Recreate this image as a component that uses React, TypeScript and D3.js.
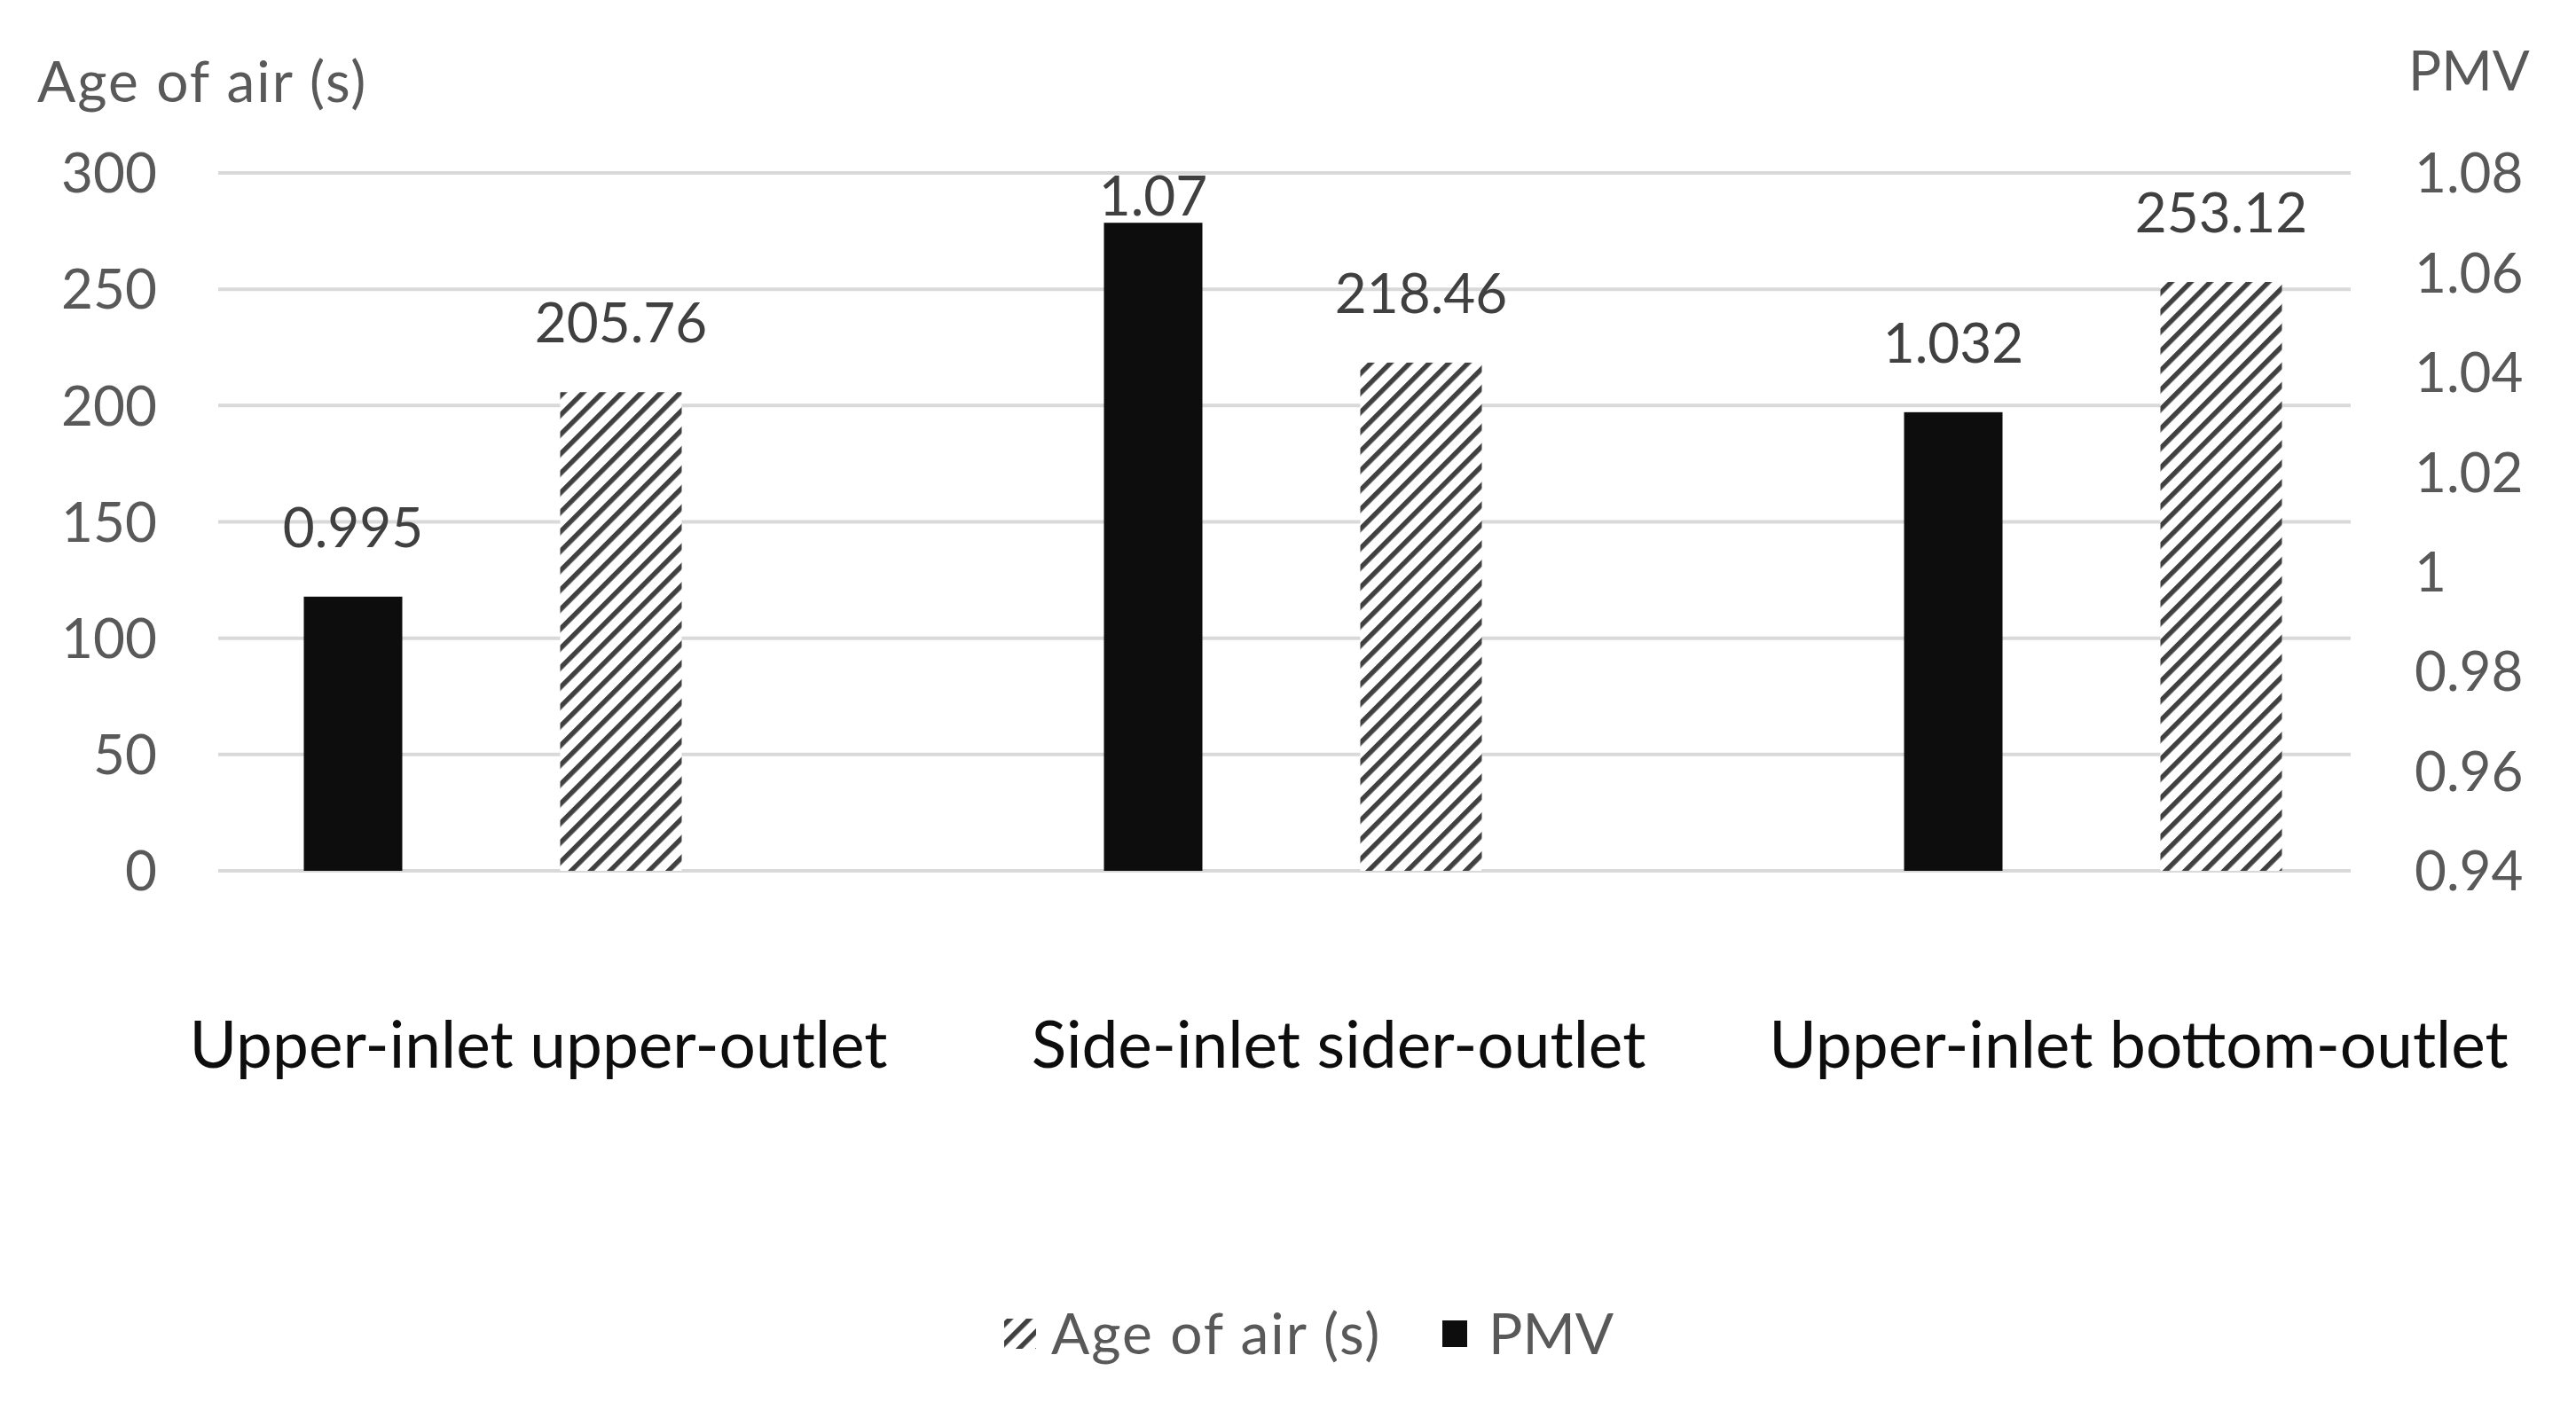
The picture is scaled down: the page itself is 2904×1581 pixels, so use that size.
import React, { useEffect, useRef } from 'react';
import * as d3 from 'd3';

// chart data
const categories = ['Upper-inlet upper-outlet', 'Side-inlet sider-outlet', 'Upper-inlet bottom-outlet'];
const ageOfAir = [205.76, 218.46, 253.12];
const pmv = [0.995, 1.07, 1.032];
const ageTicks = [0, 50, 100, 150, 200, 250, 300];
const pmvTicks = [0.94, 0.96, 0.98, 1.0, 1.02, 1.04, 1.06, 1.08];

const W = 2904;
const H = 1581;

const App = () => {
  const svgRef = useRef<SVGSVGElement>(null);

  useEffect(() => {
    const font = 'Lato, "Open Sans", sans-serif';
    const grey = '#595959';

    const svg = d3.select(svgRef.current);
    svg.selectAll('*').remove();
    svg.attr('width', W).attr('height', H);

    svg.append('rect').attr('width', W).attr('height', H).attr('fill', '#fff');

    // hatch pattern for the age-of-air bars
    const defs = svg.append('defs');
    const pat = defs.append('pattern')
      .attr('id', 'hatch')
      .attr('patternUnits', 'userSpaceOnUse')
      .attr('width', 15.5)
      .attr('height', 15.5)
      .attr('patternTransform', 'rotate(45)');
    pat.append('rect').attr('width', 15.5).attr('height', 15.5).attr('fill', '#fff');
    pat.append('rect').attr('x', 0).attr('width', 5.5).attr('height', 15.5).attr('fill', '#404040');

    const plotLeft = 246;
    const plotRight = 2650;
    const plotTop = 195;
    const plotBottom = 982;

    const yAge = d3.scaleLinear().domain([0, 300]).range([plotBottom, plotTop]);
    const yPmv = d3.scaleLinear().domain([0.94, 1.08]).range([plotBottom, plotTop]);

    const x = d3.scaleBand().domain(categories).range([98, 2804]);
    const inner = d3.scalePoint().domain(['PMV', 'Age']).range([-151, 151]);

    // grid
    svg.append('g')
      .selectAll('line')
      .data(ageTicks)
      .enter()
      .append('line')
      .attr('x1', plotLeft)
      .attr('x2', plotRight)
      .attr('y1', d => yAge(d))
      .attr('y2', d => yAge(d))
      .attr('stroke', '#d9d9d9')
      .attr('stroke-width', 4);

    // left axis labels
    svg.append('g')
      .selectAll('text')
      .data(ageTicks)
      .enter()
      .append('text')
      .attr('x', 177)
      .attr('y', d => yAge(d))
      .attr('dy', '0.36em')
      .attr('text-anchor', 'end')
      .attr('fill', grey)
      .style('font-family', font)
      .style('font-size', '62px')
      .text(d => d);

    // right axis labels
    svg.append('g')
      .selectAll('text')
      .data(pmvTicks)
      .enter()
      .append('text')
      .attr('x', 2722)
      .attr('y', d => yPmv(d))
      .attr('dy', '0.36em')
      .attr('fill', grey)
      .style('font-family', font)
      .style('font-size', '62px')
      .text(d => String(+d.toFixed(2)));

    // axis titles
    svg.append('text')
      .attr('x', 42).attr('y', 115)
      .attr('fill', grey)
      .style('font-family', font).style('font-size', '64px')
      .style('letter-spacing', '2px')
      .text('Age of air (s)');
    svg.append('text')
      .attr('x', 2715).attr('y', 102)
      .attr('fill', grey)
      .style('font-family', font).style('font-size', '62px')
      .text('PMV');

    // bars
    const pmvW = 111;
    const ageW = 137;
    const gap = 56;
    const minBase = plotTop + 48;

    categories.forEach((c, i) => {
      const cx = x(c)! + x.bandwidth() / 2;

      const px = cx + inner('PMV')!;
      const py = yPmv(pmv[i]);
      svg.append('rect')
        .attr('x', px - pmvW / 2)
        .attr('y', py)
        .attr('width', pmvW)
        .attr('height', plotBottom - py)
        .attr('fill', '#0d0d0d');

      const ax = cx + inner('Age')!;
      const ay = yAge(ageOfAir[i]);
      svg.append('rect')
        .attr('x', ax - ageW / 2)
        .attr('y', ay)
        .attr('width', ageW)
        .attr('height', plotBottom - ay)
        .attr('fill', 'url(#hatch)');

      // data labels
      svg.append('text')
        .attr('x', px).attr('y', Math.max(py - gap, minBase))
        .attr('text-anchor', 'middle')
        .attr('fill', '#404040')
        .style('font-family', font).style('font-size', '62px')
        .text(String(pmv[i]));
      svg.append('text')
        .attr('x', ax).attr('y', Math.max(ay - gap, minBase))
        .attr('text-anchor', 'middle')
        .attr('fill', '#404040')
        .style('font-family', font).style('font-size', '62px')
        .text(String(ageOfAir[i]));

      // category label
      svg.append('text')
        .attr('x', cx + 58).attr('y', 1204)
        .attr('text-anchor', 'middle')
        .attr('fill', '#0d0d0d')
        .style('font-family', font).style('font-size', '73px')
        .text(c);
    });

    // legend
    const lg = svg.append('g').attr('transform', 'translate(0,1504)');
    lg.append('rect')
      .attr('x', 1132).attr('y', -17).attr('width', 36).attr('height', 34)
      .attr('fill', 'url(#hatch)');
    lg.append('text')
      .attr('x', 1185).attr('y', 0).attr('dy', '0.36em')
      .attr('fill', grey)
      .style('font-family', font).style('font-size', '64px')
      .style('letter-spacing', '2px')
      .text('Age of air (s)');
    lg.append('rect')
      .attr('x', 1626).attr('y', -15).attr('width', 28).attr('height', 30)
      .attr('fill', '#0d0d0d');
    lg.append('text')
      .attr('x', 1678).attr('y', 0).attr('dy', '0.36em')
      .attr('fill', grey)
      .style('font-family', font).style('font-size', '64px')
      .text('PMV');
  }, []);

  return (
    <div style={{ position: 'absolute', left: 0, top: 0 }}>
      <svg ref={svgRef} style={{ display: 'block' }}></svg>
    </div>
  );
};

export default App;
